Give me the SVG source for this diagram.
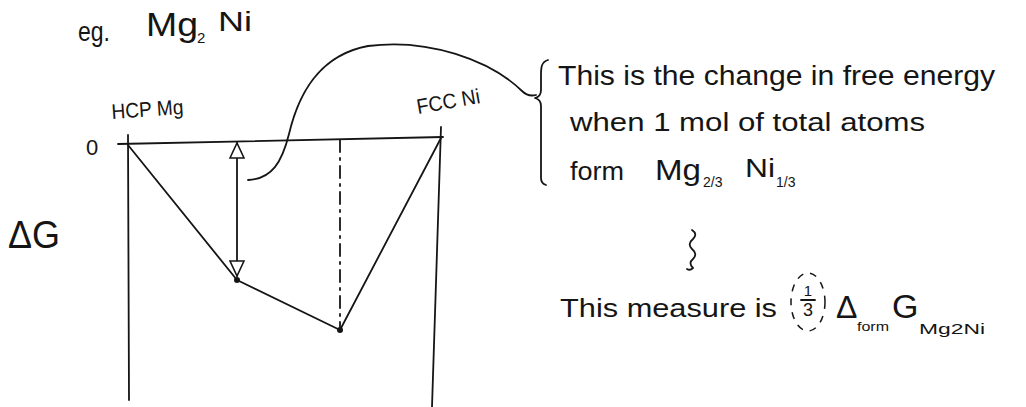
<svg xmlns="http://www.w3.org/2000/svg" width="1026" height="407" viewBox="0 0 1026 407">
<defs>
<style>
.ln{fill:none;stroke:#151515;stroke-width:1.8;stroke-linecap:round;stroke-linejoin:round}
.t{font-family:"Liberation Sans","DejaVu Sans",sans-serif;fill:#151515}
.s{font-family:"Liberation Sans","DejaVu Sans",sans-serif;fill:#151515}
</style>
<marker id="tri" markerUnits="userSpaceOnUse" markerWidth="17" markerHeight="16" viewBox="-1 -1 17 16" refX="15" refY="7" orient="auto-start-reverse">
<path d="M0,0 L15,7 L0,14 Z" fill="#fff" stroke="#151515" stroke-width="1.6"/>
</marker>
</defs>
<rect width="1026" height="407" fill="#fff"/>

<g id="title">
<text class="t" x="78" y="41" font-size="28" textLength="32" lengthAdjust="spacingAndGlyphs">eg.</text>
<text class="t" x="146" y="36" font-size="34" textLength="52" lengthAdjust="spacingAndGlyphs">Mg</text>
<text class="s" x="197" y="43" font-size="15">2</text>
<text class="t" x="218" y="31" font-size="28" textLength="34" lengthAdjust="spacingAndGlyphs">Ni</text>
</g>

<g id="axes">
<path class="ln" d="M118,144 L443,137"/>
<path class="ln" d="M128,135 L129,400"/>
<path class="ln" d="M441,127 L432,407"/>
<text class="t" x="86" y="155" font-size="22">0</text>
<text class="t" x="8" y="248" font-size="38" textLength="52" lengthAdjust="spacingAndGlyphs">ΔG</text>
<text class="t" x="112" y="119" font-size="21" transform="rotate(-4 112 119)" textLength="72" lengthAdjust="spacingAndGlyphs">HCP Mg</text>
<text class="t" x="418" y="114" font-size="21" transform="rotate(-10 418 114)" textLength="64" lengthAdjust="spacingAndGlyphs">FCC Ni</text>
</g>

<g id="energy-curve">
<path class="ln" d="M128,145 L237,280 L340,330 L441,138"/>
<circle cx="237" cy="280" r="3" fill="#151515"/>
<circle cx="340" cy="330" r="3" fill="#151515"/>
</g>

<g id="connectors">
<path class="ln" d="M340,140 L340,328" stroke-dasharray="12 6 2 6"/>
<path class="ln" d="M237,143 L237,276" marker-start="url(#tri)" marker-end="url(#tri)"/>
<path class="ln" d="M248,180 C272,179 282,162 289,134 C299,92 320,55 368,46 C428,38 490,60 522,91 C527,96 532,96 536,95"/>
<path class="ln" d="M692,230 q6,4 1,9 q-6,5 -1,10 q6,5 1,10 q-5,4 0,9 q-3,3 -6,1"/>
</g>

<g id="annotation">
<path class="ln" d="M548,60 C541,62 541,68 541,76 L541,90 C541,95 539,97 535,98 C539,99 541,101 541,106 L541,178 C541,182 543,184 546,185"/>
<text class="t" x="558" y="85" font-size="28" textLength="437" lengthAdjust="spacingAndGlyphs">This is the change in free energy</text>
<text class="t" x="570" y="131" font-size="26" textLength="355" lengthAdjust="spacingAndGlyphs">when 1 mol of total atoms</text>
<text class="t" x="570" y="180" font-size="26" textLength="54" lengthAdjust="spacingAndGlyphs">form</text>
<text class="t" x="655" y="180" font-size="30" textLength="46" lengthAdjust="spacingAndGlyphs">Mg</text>
<text class="s" x="703" y="187" font-size="14">2/3</text>
<text class="t" x="745" y="177" font-size="26" textLength="30" lengthAdjust="spacingAndGlyphs">Ni</text>
<text class="s" x="776" y="187" font-size="14">1/3</text>
</g>

<g id="measure">
<text class="t" x="560" y="317" font-size="26" textLength="217" lengthAdjust="spacingAndGlyphs">This measure is</text>
<ellipse cx="808" cy="302" rx="17" ry="29" fill="none" stroke="#151515" stroke-width="1.5" stroke-dasharray="7 7"/>
<text class="s" x="808" y="296" text-anchor="middle" font-size="15">1</text>
<path class="ln" d="M801,300 L815,300" stroke-width="1.2"/>
<text class="s" x="808" y="316" text-anchor="middle" font-size="18">3</text>
<text class="t" x="836" y="318" font-size="32">Δ</text>
<text class="s" x="857" y="331" font-size="12" textLength="32" lengthAdjust="spacingAndGlyphs">form</text>
<text class="t" x="892" y="318" font-size="34">G</text>
<text class="s" x="919" y="334" font-size="14" textLength="66" lengthAdjust="spacingAndGlyphs">Mg2Ni</text>
</g>
</svg>
